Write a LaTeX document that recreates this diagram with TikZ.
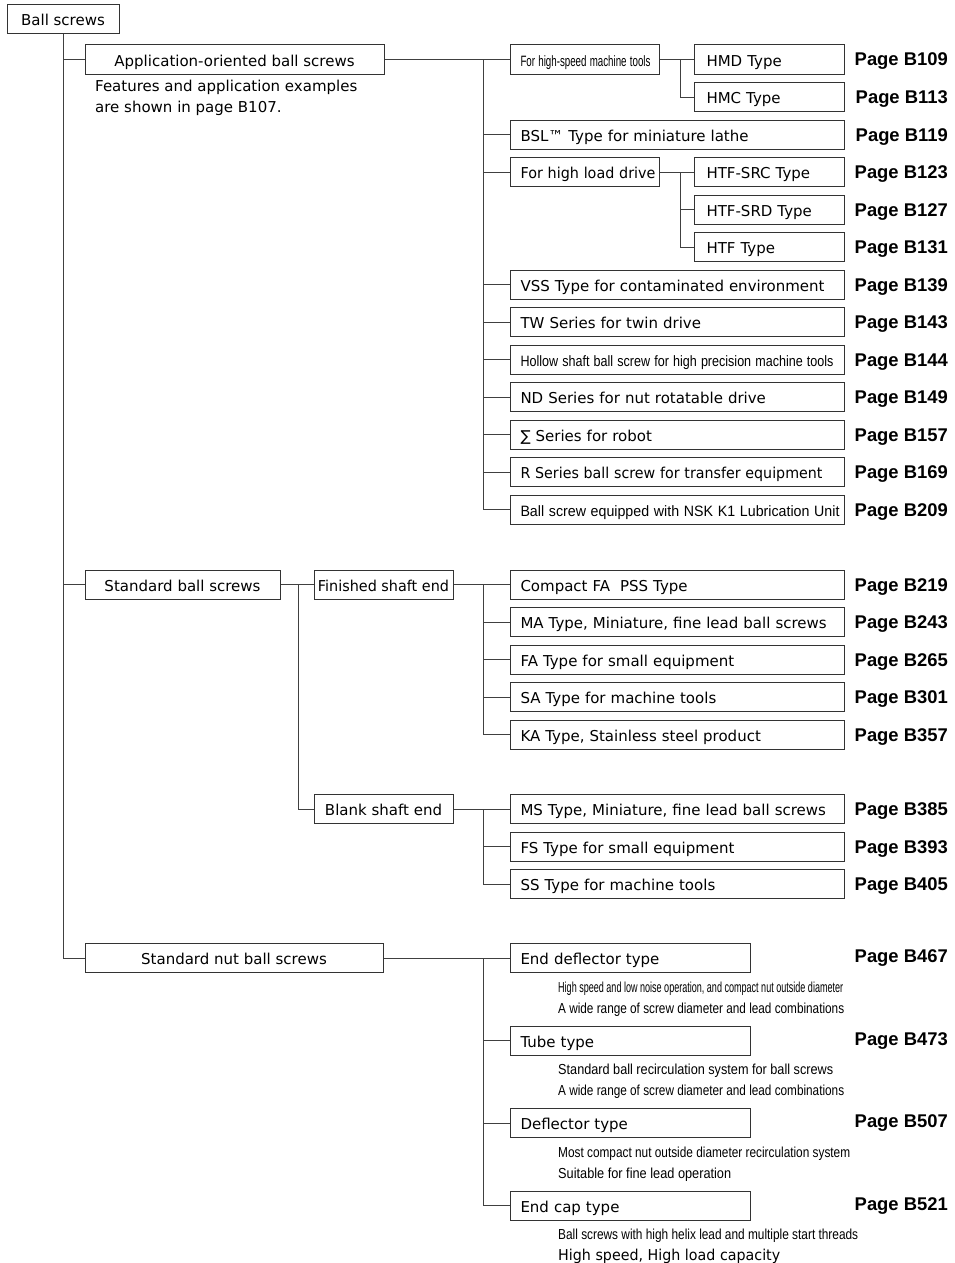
\documentclass[tikz,border=0pt]{standalone}
\usepackage{fontspec}
\usepackage{graphicx}
\setmainfont{DejaVu Sans}
\newfontfamily\pagefont{Liberation Sans}
\newfontfamily\narrowfont{Liberation Sans}
\usetikzlibrary{calc}

% squeeze a line of text to a given width (in pt), keeping its height
\newcommand{\squeeze}[2]{\resizebox{#1pt}{\height}{#2}}

\begin{document}
\begin{tikzpicture}[x=1pt, y=-1pt,
		box/.style={draw=black!80, line width=1pt, inner sep=0pt, minimum height=29pt,
			text height=15pt, text depth=1.6pt, font=\fontsize{15}{18}\selectfont},
		lbox/.style={box, anchor=west, inner xsep=10pt, text width=#1, align=left},
		sbox/.style={box, anchor=west, inner xsep=12pt, text width=126pt, align=left},
		cbox/.style={box, minimum width=#1},
		pagelbl/.style={anchor=base east, inner sep=0pt, font=\pagefont\bfseries\fontsize{18.4}{20}\selectfont},
		note/.style={anchor=base west, inner sep=0pt, font=\narrowfont\fontsize{14.5}{16}\selectfont},
		link/.style={draw=black!75, line width=0.9pt}]

			\useasboundingbox (0,0) rectangle (955,1263);

			\def\rowA{59.5};
			\def\rowF{584.5};
			\def\rowB{809};
			\def\rowN{958};

			% main branches
			\begin{scope}
				\node[cbox=112pt] (root) at (63,19) {Ball screws};
				\node[cbox=299pt] (app) at (234.5,\rowA) {Application-oriented ball screws};
				\node[cbox=195pt] (std) at (182.5,\rowF) {Standard ball screws};
				\node[cbox=298pt] (nut) at (234,\rowN) {Standard nut ball screws};
				\node[anchor=north west, align=left, inner sep=0pt, font=\fontsize{15}{21}\selectfont] (feat) at (95,80)
					{Features and application examples\\are shown in page B107.};

				\draw[link] (root.south) |- (app.west);
				\draw[link] (root.south) |- (std.west);
				\draw[link] (root.south) |- (nut.west);
			\end{scope}

			% application-oriented ball screws
			\begin{scope}
				\coordinate (ja) at (483,\rowA);
				\draw[link] (app.east) -- (ja);

				\node[lbox=129pt] (hs) at (510,\rowA) {\narrowfont\squeeze{130}{For high-speed machine tools}};
				\node[lbox=129pt] (hl) at (510,\rowA+37.5*3) {\squeeze{135}{For high load drive}};

				\foreach \n/\k/\t/\p in {
					bsl/2/{BSL™ Type for miniature lathe}/B119,
					vss/6/{VSS Type for contaminated environment}/B139,
					tw/7/{TW Series for twin drive}/B143,
					hollow/8/{\narrowfont\squeeze{313}{Hollow shaft ball screw for high precision machine tools}}/B144,
					nd/9/{ND Series for nut rotatable drive}/B149,
					sigma/10/{∑ Series for robot}/B157,
					rser/11/{\squeeze{302}{R Series ball screw for transfer equipment}}/B169,
					kone/12/{\narrowfont\squeeze{319}{Ball screw equipped with NSK K1 Lubrication Unit}}/B209}
				{
					\node[lbox=314pt] (\n) at (510,\rowA+37.5*\k) {\t};
					\node[pagelbl] (p\n) at (948,\rowA+37.5*\k+6.5) {Page \p};
				}

				\foreach \n in {hs,bsl,hl,vss,tw,hollow,nd,sigma,rser,kone}
					\draw[link] (ja) |- (\n.west);

				\coordinate (jh) at (680,\rowA);
				\coordinate (jl) at (680,\rowA+37.5*3);
				\draw[link] (hs.east) -- (jh);
				\draw[link] (hl.east) -- (jl);

				\foreach \n/\k/\t/\p/\j in {
					hmd/0/HMD Type/B109/jh,
					hmc/1/HMC Type/B113/jh,
					src/3/HTF-SRC Type/B123/jl,
					srd/4/HTF-SRD Type/B127/jl,
					htf/5/HTF Type/B131/jl}
				{
					\node[sbox] (\n) at (694,\rowA+37.5*\k) {\t};
					\node[pagelbl] (p\n) at (948,\rowA+37.5*\k+6.5) {Page \p};
					\draw[link] (\j) |- (\n.west);
				}
			\end{scope}

			% standard ball screws
			\begin{scope}
				\node[cbox=139pt] (fin) at (383.5,\rowF) {\squeeze{131}{Finished shaft end}};
				\node[cbox=139pt] (blank) at (383.5,\rowB) {Blank shaft end};

				\coordinate (js) at (298,\rowF);
				\draw[link] (std.east) -- (fin.west);
				\draw[link] (js) |- (blank.west);

				\coordinate (jf) at (483,\rowF);
				\coordinate (jb) at (483,\rowB);
				\draw[link] (fin.east) -- (jf);
				\draw[link] (blank.east) -- (jb);

				\foreach \n/\k/\t/\p in {
					cfa/0/{Compact FA\ \ PSS Type}/B219,
					ma/1/{MA Type, Miniature, fine lead ball screws}/B243,
					fa/2/{FA Type for small equipment}/B265,
					sa/3/{SA Type for machine tools}/B301,
					ka/4/{KA Type, Stainless steel product}/B357}
				{
					\node[lbox=314pt] (\n) at (510,\rowF+37.5*\k) {\t};
					\node[pagelbl] (p\n) at (948,\rowF+37.5*\k+6.5) {Page \p};
					\draw[link] (jf) |- (\n.west);
				}

				\foreach \n/\k/\t/\p in {
					ms/0/{MS Type, Miniature, fine lead ball screws}/B385,
					fs/1/{FS Type for small equipment}/B393,
					ss/2/{SS Type for machine tools}/B405}
				{
					\node[lbox=314pt] (\n) at (510,\rowB+37.5*\k) {\t};
					\node[pagelbl] (p\n) at (948,\rowB+37.5*\k+6.5) {Page \p};
					\draw[link] (jb) |- (\n.west);
				}
			\end{scope}

			% standard nut ball screws
			\begin{scope}
				\coordinate (jn) at (483,\rowN);
				\draw[link] (nut.east) -- (jn);

				\foreach \n/\k/\t/\p/\a/\wa/\b/\wb in {
					endd/0/{End deflector type}/B467/{High speed and low noise operation, and compact nut outside diameter}/285/{A wide range of screw diameter and lead combinations}/286,
					tube/1/{Tube type}/B473/{Standard ball recirculation system for ball screws}/275/{A wide range of screw diameter and lead combinations}/286,
					defl/2/{Deflector type}/B507/{Most compact nut outside diameter recirculation system}/292/{Suitable for fine lead operation}/173,
					endcap/3/{End cap type}/B521/{Ball screws with high helix lead and multiple start threads}/300/{\rmfamily\fontsize{15}{18}\selectfont High speed, High load capacity}/222}
				{
					\node[lbox=220pt] (\n) at (510,\rowN+82.5*\k) {\t};
					\node[pagelbl] (p\n) at (948,\rowN+82.5*\k+4.5) {Page \p};
					\node[note] (\n-a) at (558,\rowN+82.5*\k+34) {\squeeze{\wa}{\a}};
					\node[note] (\n-b) at (558,\rowN+82.5*\k+55) {\squeeze{\wb}{\b}};
					\draw[link] (jn) |- (\n.west);
				}
			\end{scope}
		\end{tikzpicture}
\end{document}
